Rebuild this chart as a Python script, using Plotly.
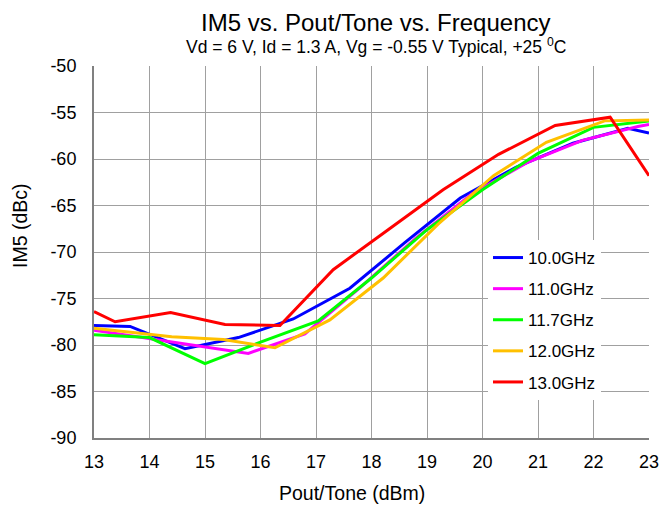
import plotly.graph_objects as go

# ---- data ----
names = ["10.0GHz", "11.0GHz", "11.7GHz", "12.0GHz", "13.0GHz"]
colors = ["#0000FF", "#FF00FF", "#00FF00", "#FFC000", "#FF0000"]

x_10 = [13, 13.65, 14.64, 15.6, 16.59, 17.61, 18.6, 19.6, 20.6, 21.63, 22.62, 23]
y_10 = [-77.9, -78.0, -80.4, -79.2, -77.2, -73.9, -69.0, -64.2, -60.9, -58.3, -56.7, -57.2]

x_11 = [13, 14.4, 15.78, 16.8, 17.8, 18.8, 19.8, 20.8, 21.8, 22.8, 23]
y_11 = [-78.4, -79.7, -80.9, -78.8, -73.8, -68.5, -63.8, -60.4, -58.0, -56.5, -56.3]

x_117 = [13, 14, 15, 16, 17.04, 18, 19, 20, 21, 22, 23]
y_117 = [-78.9, -79.2, -82.0, -79.7, -77.4, -72.8, -67.6, -63.3, -59.4, -56.6, -55.9]

x_12 = [13, 14.4, 15.33, 16.26, 17.25, 18.21, 19.2, 20.2, 21.15, 22.2, 23]
y_12 = [-78.2, -79.1, -79.4, -80.3, -77.3, -72.8, -67.0, -61.8, -58.2, -55.9, -55.8]

x_13 = [13, 13.38, 14.38, 15.36, 16.35, 17.31, 18.3, 19.29, 20.29, 21.31, 22.3, 23]
y_13 = [-76.4, -77.5, -76.5, -77.8, -77.9, -71.9, -67.6, -63.3, -59.5, -56.4, -55.5, -61.8]

xs = [x_10, x_11, x_117, x_12, x_13]
ys = [y_10, y_11, y_117, y_12, y_13]

x_ticks = [13, 14, 15, 16, 17, 18, 19, 20, 21, 22, 23]
y_ticks = [-90, -85, -80, -75, -70, -65, -60, -55, -50]
y_ticklabels = ["-90", "-85", "-80", "-75", "-70", "-65", "-60", "-55", "-50"]

title_text = "IM5 vs. Pout/Tone vs. Frequency"
subtitle_text = "Vd = 6 V, Id = 1.3 A, Vg = -0.55 V Typical, +25 <sup>0</sup>C"
x_title = "Pout/Tone (dBm)"
y_title = "IM5 (dBc)"

FONT = "Arial, Liberation Sans, sans-serif"
W, H = 661, 505
ML, MT = 94, 66
MR = W - 649
MB = H - 438
PW, PH = W - ML - MR, H - MT - MB


def px_x(p):
    return (p - ML) / PW


def px_y(p):
    return 1 - (p - MT) / PH


fig = go.Figure()
for n, c, x, y in zip(names, colors, xs, ys):
    fig.add_trace(go.Scatter(x=x, y=y, mode="lines", name=n, legendgroup=n,
                             line=dict(color=c, width=3)))

fig.update_layout(
    width=W, height=H,
    margin=dict(l=ML, r=MR, t=MT, b=MB, autoexpand=False),
    paper_bgcolor="white", plot_bgcolor="white",
    font=dict(family=FONT, color="black"),
    showlegend=True,
    legend=dict(x=px_x(488), y=px_y(240), xanchor="left", yanchor="top",
                bgcolor="white", font=dict(size=17, family=FONT),
                tracegroupgap=6, itemwidth=30),
    annotations=[
        dict(text=title_text, x=px_x(376), y=px_y(22), xref="paper", yref="paper",
             xanchor="center", yanchor="middle",
             showarrow=False, font=dict(size=24, family=FONT)),
        dict(text=subtitle_text, x=px_x(376), y=px_y(46), xref="paper", yref="paper",
             xanchor="center", yanchor="middle",
             showarrow=False, font=dict(size=17.5, family=FONT)),
        dict(text=y_title, x=px_x(20), y=px_y(226), xref="paper", yref="paper",
             xanchor="center", yanchor="middle", textangle=-90,
             showarrow=False, font=dict(size=19.5, family=FONT)),
        dict(text=x_title, x=px_x(352), y=px_y(493), xref="paper", yref="paper",
             xanchor="center", yanchor="middle",
             showarrow=False, font=dict(size=19.5, family=FONT)),
    ],
)

fig.update_xaxes(range=[13, 23], tickvals=x_ticks, showgrid=True, automargin=False,
                 gridcolor="#a0a0a0", gridwidth=1.3, zeroline=False,
                 showline=True, linecolor="#808080", linewidth=2,
                 ticks="", tickfont=dict(size=18, family=FONT),
                 ticklabelstandoff=6, ticklabeloverflow="allow")
fig.update_yaxes(range=[-90, -50], tickvals=y_ticks, ticktext=y_ticklabels,
                 showgrid=True, automargin=False,
                 gridcolor="#a0a0a0", gridwidth=1.3, zeroline=False,
                 showline=True, linecolor="#808080", linewidth=2,
                 ticks="", tickfont=dict(size=18, family=FONT),
                 ticklabelstandoff=12, ticklabeloverflow="allow")

fig.write_html(
    "out.html",
    config={"displayModeBar": False},
    post_script="document.body.style.margin='0';document.body.style.overflow='hidden';",
)
